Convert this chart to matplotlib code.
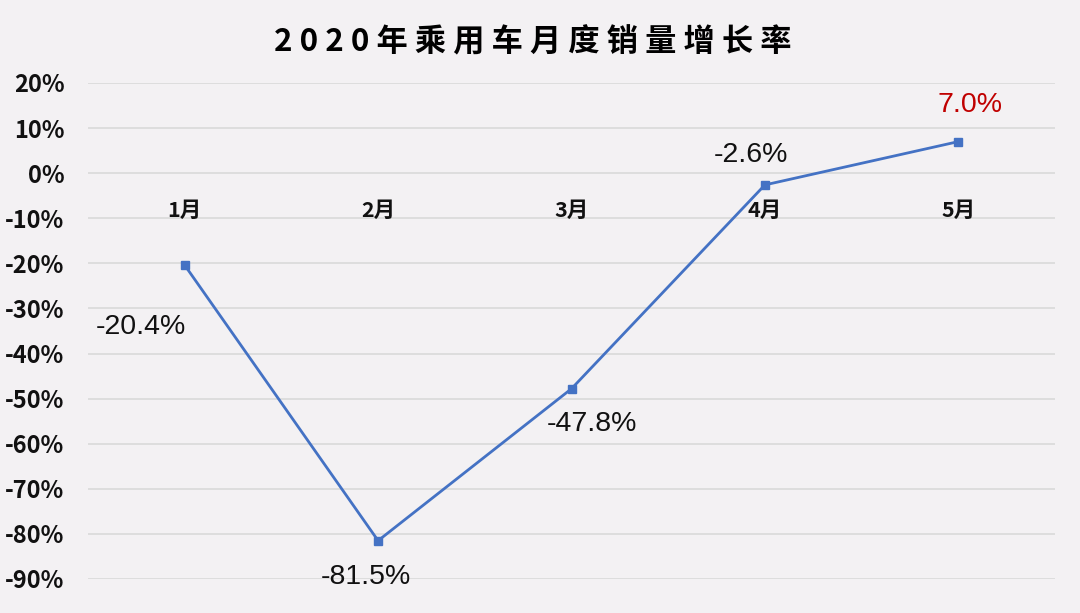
import matplotlib
matplotlib.use("Agg")
import matplotlib.pyplot as plt
from matplotlib.ticker import FixedLocator

months = ["1月", "2月", "3月", "4月", "5月"]
growth = [-20.4, -81.5, -47.8, -2.6, 7.0]
value_labels = ["-20.4%", "-81.5%", "-47.8%", "-2.6%", "7.0%"]
yticks = [20, 10, 0, -10, -20, -30, -40, -50, -60, -70, -80, -90]
title = "2020年乘用车月度销量增长率"

bg = "#F3F1F3"
fig = plt.figure(figsize=(10.8, 6.13), dpi=100, facecolor=bg)
ax = fig.add_axes([88/1080, 1-579/613, (1055-88)/1080, (579-83)/613])
ax.set_facecolor(bg)

x = list(range(len(months)))
ax.plot(x, growth, color="#4472C4", lw=2.0, marker="s", markersize=6, zorder=3)

ax.set_xlim(-0.5, 4.5)
ax.set_ylim(-90, 20)
ax.yaxis.set_major_locator(FixedLocator(yticks))
ax.set_yticklabels([f"{v}%" for v in yticks])
ax.grid(axis="y", color="#D9D9D9", lw=1.2)
ax.set_axisbelow(True)
for s in ax.spines.values():
    s.set_visible(False)
ax.tick_params(axis="y", length=0, pad=17)
for lab in ax.get_yticklabels():
    lab.set_fontfamily(["Noto Sans CJK SC", "DejaVu Sans"])
    lab.set_fontweight("bold")
    lab.set_fontsize(17)
    lab.set_color("#111111")

ax.set_xticks([])
for xi, m in zip(x, months):
    ax.annotate(m, (xi, 0), xytext=(0, -37), textcoords="offset pixels",
                ha="center", va="center", fontsize=15.5, fontweight="bold",
                family=["Noto Sans CJK SC", "DejaVu Sans"], color="#111111")

offsets = [(-44, -62), (-12, -36), (20, -35), (-14, 30), (12, 37)]
colors = ["#111111", "#111111", "#111111", "#111111", "#C00000"]
for xi, yi, lab, off, c in zip(x, growth, value_labels, offsets, colors):
    ax.annotate(lab, (xi, yi), xytext=off, textcoords="offset pixels",
                ha="center", va="center", fontsize=20.5, color=c,
                family="Liberation Sans")

fig.text(533/1080, 1-42/613, " ".join(title), ha="center", va="center",
         fontsize=22.5, fontweight="bold", family=["Noto Sans CJK SC", "DejaVu Sans"],
         color="#000000")

fig.savefig("out.png", dpi=100, facecolor=bg)
